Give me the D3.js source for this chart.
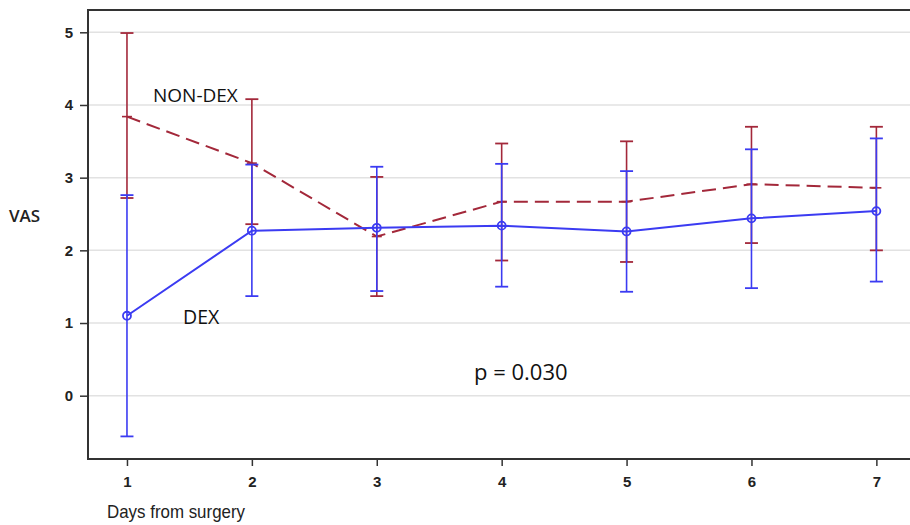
<!DOCTYPE html>
<html>
<head>
<meta charset="utf-8">
<script src="https://cdn.jsdelivr.net/npm/d3@7"></script>
<style>
  html, body { margin: 0; padding: 0; background: #fff; }
  svg { display: block; }
</style>
</head>
<body>
<svg id="chart" width="910" height="525"></svg>
<script>
// ---- data ----
const days = [1, 2, 3, 4, 5, 6, 7];
const dexMean  = [1.10, 2.27, 2.31, 2.34, 2.26, 2.44, 2.54];
const dexUpper = [2.76, 3.18, 3.15, 3.19, 3.09, 3.39, 3.54];
const dexLower = [-0.56, 1.37, 1.44, 1.50, 1.43, 1.48, 1.57];
const nonMean  = [3.84, 3.20, 2.19, 2.67, 2.67, 2.91, 2.86];
const nonUpper = [4.99, 4.08, 3.01, 3.47, 3.50, 3.70, 3.70];
const nonLower = [2.72, 2.36, 1.37, 1.86, 1.84, 2.10, 2.00];
const yTicks = [0, 1, 2, 3, 4, 5];
const xTicks = [1, 2, 3, 4, 5, 6, 7];
const yTitle = "VAS";
const xTitle = "Days from surgery";
const pText = "p = 0.030";

(function () {
const svg = d3.select("#chart");
const pLeft = 88, pTop = 10, pBottom = 459, pRight = 914;

const x = d3.scaleLinear().domain([0.688, 7.3]).range([pLeft, pLeft + (7.3 - 0.688) * 124.9]);
const y = d3.scaleLinear().domain([0, 5]).range([395.7, 32.3]);

const red = "#a3283a", blue = "#3b3bf2";

// gridlines
svg.append("g").selectAll("line").data(yTicks).join("line")
  .attr("x1", pLeft).attr("x2", pRight)
  .attr("y1", d => y(d)).attr("y2", d => y(d))
  .attr("stroke", "#e2e2e2").attr("stroke-width", 1.5);

// frame
svg.append("path")
  .attr("d", `M${pRight},${pTop}H${pLeft}V${pBottom}H${pRight}`)
  .attr("fill", "none").attr("stroke", "#333").attr("stroke-width", 2);

// axes
const fmt = d3.format("d");
const yAxis = svg.append("g").attr("transform", `translate(${pLeft},0)`)
  .call(d3.axisLeft(y).tickValues(yTicks).tickFormat(fmt).tickSize(8).tickPadding(7));
const xAxis = svg.append("g").attr("transform", `translate(0,${pBottom})`)
  .call(d3.axisBottom(x).tickValues(xTicks).tickFormat(fmt).tickSize(7).tickPadding(10));
[yAxis, xAxis].forEach(a => {
  a.select(".domain").remove();
  a.selectAll(".tick line").attr("stroke", "#333").attr("stroke-width", 1.5);
  a.selectAll(".tick text")
    .attr("fill", "#222")
    .style("font-family", "'Liberation Sans', Arial, sans-serif")
    .style("font-weight", "bold")
    .style("font-size", "15px");
});

function drawSeries(mean, upper, lower, color, dashed, markers) {
  const g = svg.append("g");
  const cap = 6.5;
  days.forEach((d, i) => {
    g.append("line").attr("x1", x(d)).attr("x2", x(d))
      .attr("y1", y(upper[i])).attr("y2", y(lower[i]))
      .attr("stroke", color).attr("stroke-width", 1.6);
    [upper[i], lower[i]].forEach(v => {
      g.append("line").attr("x1", x(d) - cap).attr("x2", x(d) + cap)
        .attr("y1", y(v)).attr("y2", y(v))
        .attr("stroke", color).attr("stroke-width", 1.8);
    });
  });
  const line = d3.line().x((d, i) => x(days[i])).y(d => y(d));
  g.append("path").datum(mean).attr("d", line)
    .attr("fill", "none").attr("stroke", color).attr("stroke-width", 2)
    .attr("stroke-dasharray", dashed ? "14,7" : null);
  if (markers) {
    g.selectAll("circle").data(mean).join("circle")
      .attr("cx", (d, i) => x(days[i])).attr("cy", d => y(d)).attr("r", 4)
      .attr("fill", "none").attr("stroke", color).attr("stroke-width", 1.8);
  } else {
    g.selectAll(".m").data(mean).join("line")
      .attr("x1", (d, i) => x(days[i]) - 5).attr("x2", (d, i) => x(days[i]) + 5)
      .attr("y1", d => y(d)).attr("y2", d => y(d))
      .attr("stroke", color).attr("stroke-width", 1.6);
  }
}
drawSeries(nonMean, nonUpper, nonLower, red, true, false);
drawSeries(dexMean, dexUpper, dexLower, blue, false, true);

const font = "'Open Sans', 'Noto Sans', sans-serif";
svg.append("text").attr("x", 153).attr("y", 102).text("NON-DEX")
  .style("font-family", font).style("font-size", "19px").attr("fill", "#111");
svg.append("text").attr("x", 183).attr("y", 324).text("DEX")
  .style("font-family", font).style("font-size", "19.5px").attr("fill", "#111");
svg.append("text").attr("x", 474).attr("y", 380).text(pText)
  .style("font-family", font).style("font-size", "22px").attr("fill", "#111");
svg.append("text").attr("x", 9).attr("y", 222).text(yTitle)
  .style("font-family", font).style("font-weight", 600).style("font-size", "17px").attr("fill", "#222");
svg.append("text").attr("x", 107).attr("y", 518).text(xTitle)
  .attr("textLength", 138).attr("lengthAdjust", "spacingAndGlyphs")
  .style("font-family", "'Liberation Sans', Arial, sans-serif")
  .style("font-size", "19px").attr("fill", "#222");
})();
</script>
</body>
</html>
